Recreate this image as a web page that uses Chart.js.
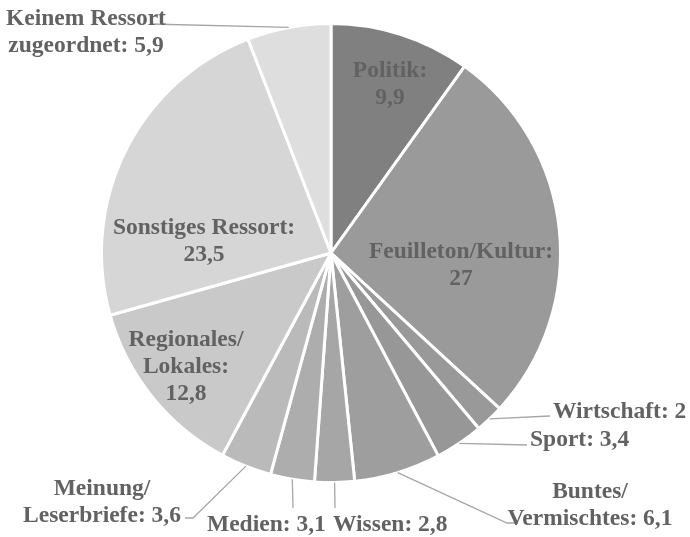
<!DOCTYPE html>
<html>
<head>
<meta charset="utf-8">
<script src="https://cdn.jsdelivr.net/npm/chart.js@4/dist/chart.umd.min.js"></script>
<style>
html,body{margin:0;padding:0;background:#fff;}
canvas{display:block;}
</style>
</head>
<body>
<canvas id="c" width="690" height="537"></canvas>
<script>
// ---- data ----
const categories = ['Politik', 'Feuilleton/Kultur', 'Wirtschaft', 'Sport', 'Buntes/Vermischtes', 'Wissen', 'Medien', 'Meinung/Leserbriefe', 'Regionales/Lokales', 'Sonstiges Ressort', 'Keinem Ressort zugeordnet'];
const values = [9.9, 27, 2, 3.4, 6.1, 2.8, 3.1, 3.6, 12.8, 23.5, 5.9];
// label text split into lines (name parts); value appended
const nameLines = [['Politik:'], ['Feuilleton/Kultur:'], ['Wirtschaft:'], ['Sport:'], ['Buntes/', 'Vermischtes:'], ['Wissen:'], ['Medien:'], ['Meinung/', 'Leserbriefe:'], ['Regionales/', 'Lokales:'], ['Sonstiges Ressort:'], ['Keinem Ressort', 'zugeordnet:']];
const valueOwnLine = [true, true, false, false, false, false, false, false, true, true, false];

// ---- styles / layout ----
const colors = ['#808080', '#9a9a9a', '#999999', '#979797', '#9e9e9e', '#a6a6a6', '#adadad', '#bababa', '#c9c9c9', '#d6d6d6', '#dedede'];
const labelLayout = [
  {x: 390, y: 69, align: 'center', leader: null},
  {x: 461, y: 250, align: 'center', leader: null},
  {x: 553, y: 410, align: 'left', leader: [[550, 416]]},
  {x: 530, y: 438, align: 'left', leader: [[527, 445]]},
  {x: 590, y: 490, align: 'center', leader: [[507, 523], [518, 523]]},
  {x: 333, y: 523, align: 'left', leader: [[335, 508]]},
  {x: 207, y: 523, align: 'left', leader: [[293, 508]]},
  {x: 102, y: 487, align: 'center', leader: [[193, 518], [185, 518]]},
  {x: 186, y: 338, align: 'center', leader: null},
  {x: 204, y: 226, align: 'center', leader: null},
  {x: 86, y: 17, align: 'center', leader: [[150, 24]]}
];
const LINE_H = 27;
const FONT = 'bold 23.5px "Liberation Serif", "Times New Roman", serif';
const TEXT_COLOR = '#626262';

function fmt(v){ return String(v).replace('.', ','); }
function buildLines(i){
  const lines = nameLines[i].slice();
  if (valueOwnLine[i]) lines.push(fmt(values[i]));
  else lines[lines.length-1] = lines[lines.length-1] + ' ' + fmt(values[i]);
  return lines;
}

const labelPlugin = {
  id: 'pieLabels',
  afterDatasetsDraw(chart){
    const ctx = chart.ctx;
    const meta = chart.getDatasetMeta(0);
    ctx.save();
    meta.data.forEach((arc, i) => {
      const lay = labelLayout[i];
      const p = arc.getProps(['x','y','startAngle','endAngle','outerRadius'], true);
      if (lay.leader){
        const mid = (p.startAngle + p.endAngle) / 2;
        const sx = p.x + Math.cos(mid) * p.outerRadius;
        const sy = p.y + Math.sin(mid) * p.outerRadius;
        ctx.beginPath();
        ctx.moveTo(sx, sy);
        lay.leader.forEach(pt => ctx.lineTo(pt[0], pt[1]));
        ctx.strokeStyle = '#a6a6a6';
        ctx.lineWidth = 1.3;
        ctx.stroke();
      }
      ctx.font = FONT;
      ctx.fillStyle = TEXT_COLOR;
      ctx.textAlign = lay.align;
      ctx.textBaseline = 'alphabetic';
      buildLines(i).forEach((t, k) => {
        ctx.fillText(t, lay.x, lay.y + k * LINE_H + 8);
      });
    });
    ctx.restore();
  }
};

new Chart(document.getElementById('c'), {
  type: 'pie',
  data: {
    labels: categories,
    datasets: [{
      data: values,
      backgroundColor: colors,
      borderColor: '#ffffff',
      borderWidth: 3,
      hoverOffset: 0
    }]
  },
  options: {
    responsive: false,
    animation: false,
    layout: {padding: {top: 22, bottom: 53, left: 0, right: 28}},
    plugins: {legend: {display: false}, tooltip: {enabled: false}}
  },
  plugins: [labelPlugin]
});
</script>
</body>
</html>
